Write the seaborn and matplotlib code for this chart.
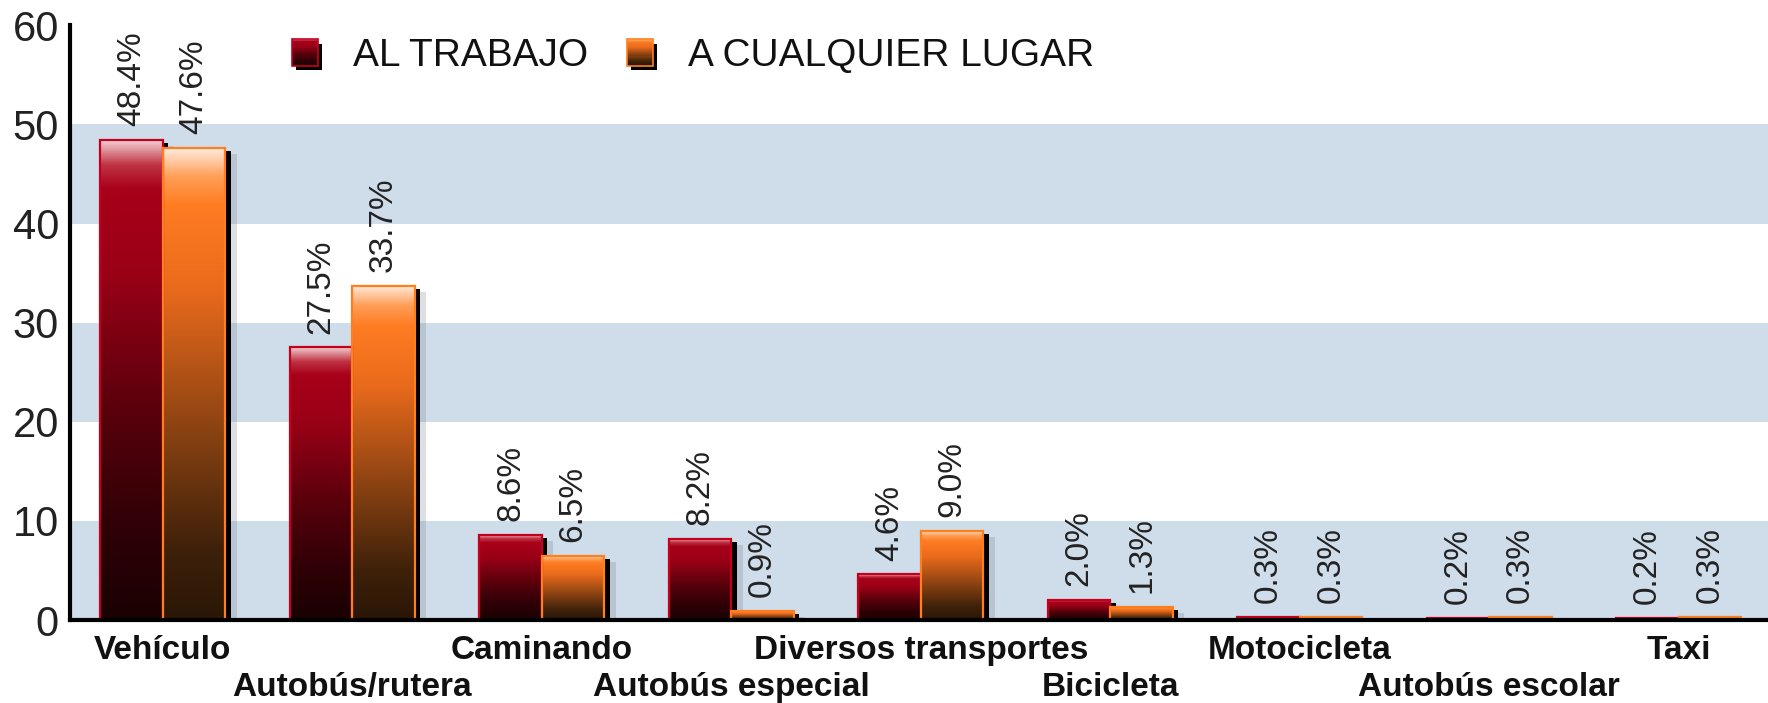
import numpy as np
import pandas as pd
import matplotlib
matplotlib.use('Agg')
import matplotlib.pyplot as plt
import seaborn as sns
from matplotlib.colors import LinearSegmentedColormap
from matplotlib.patches import Rectangle, Patch
from matplotlib.legend_handler import HandlerBase

# Data
categorias = ['Vehículo', 'Autobús/rutera', 'Caminando', 'Autobús especial',
              'Diversos transportes', 'Bicicleta', 'Motocicleta',
              'Autobús escolar', 'Taxi']
al_trabajo = [48.4, 27.5, 8.6, 8.2, 4.6, 2.0, 0.3, 0.2, 0.2]
cualquier_lugar = [47.6, 33.7, 6.5, 0.9, 9.0, 1.3, 0.3, 0.3, 0.3]
series = ['AL TRABAJO', 'A CUALQUIER LUGAR']
y_ticks = [0, 10, 20, 30, 40, 50, 60]

df = pd.DataFrame({
    'modo': categorias * 2,
    'serie': [series[0]] * len(categorias) + [series[1]] * len(categorias),
    'valor': al_trabajo + cualquier_lugar,
})

sns.set_style('white')
plt.rcParams['font.family'] = ['Liberation Sans', 'DejaVu Sans']

# gradients (top -> bottom) for the two series
cmap_rojo = LinearSegmentedColormap.from_list('rojo', [
    (0.0, '#f2ccd0'), (0.05, '#c03444'), (0.10, '#a8001a'),
    (0.28, '#990016'), (0.55, '#5c000c'), (0.80, '#300006'), (1.0, '#1a0202')])
cmap_naranja = LinearSegmentedColormap.from_list('naranja', [
    (0.0, '#ffeadb'), (0.06, '#ff9d55'), (0.12, '#ff7c22'),
    (0.30, '#e96a1c'), (0.60, '#8a4212'), (0.85, '#3f210a'), (1.0, '#2a1606')])
cmaps = [cmap_rojo, cmap_naranja]
bordes = ['#c4001f', '#ff7f1f']


class HandlerDegradado(HandlerBase):
    # legend square with the same vertical gradient as the bars
    def __init__(self, cmap, borde):
        super().__init__()
        self.cmap = cmap
        self.borde = borde

    def create_artists(self, legend, orig_handle, xdescent, ydescent,
                       width, height, fontsize, trans):
        n = 24
        arts = [Rectangle((-xdescent + 3, -ydescent - 3), width, height,
                          facecolor='black', lw=0, transform=trans)]
        for i in range(n):
            y0 = -ydescent + height * (1 - (i + 1) / n)
            arts.append(Rectangle((-xdescent, y0), width, height / n + 0.3,
                                  facecolor=self.cmap((i + 0.5) / n), lw=0,
                                  transform=trans))
        arts.append(Rectangle((-xdescent, -ydescent), width, height,
                              facecolor='none', edgecolor=self.borde, lw=1.2,
                              transform=trans))
        return arts


fig = plt.figure(figsize=(17.68, 7.03), dpi=100)
ax = fig.add_axes([0.0396, 0.118, 0.9604, 0.846])

# light blue bands
for lo in (0, 20, 40):
    ax.axhspan(lo, lo + 10, color='#cfdcea', lw=0, zorder=0)

sns.barplot(data=df, x='modo', y='valor', hue='serie',
            palette={series[0]: '#a5001b', series[1]: '#ff8226'},
            width=0.66, gap=0, saturation=1, legend=False, ax=ax)

grad = np.linspace(0, 1, 256).reshape(-1, 1)
for k, cont in enumerate(ax.containers):
    for bar in cont:
        x, w, h = bar.get_x(), bar.get_width(), bar.get_height()
        # drop shadow on the right side
        ax.add_patch(Rectangle((x + 0.06, 0), w, max(h - 0.6, 0),
                               color='#6a7080', alpha=0.22, lw=0, zorder=2))
        ax.add_patch(Rectangle((x + 0.027, 0), w, max(h - 0.3, 0),
                               color='black', lw=0, zorder=2.2))
        im = ax.imshow(grad, cmap=cmaps[k], extent=(x, x + w, 0, h),
                       origin='upper', aspect='auto', zorder=3)
        im.set_clip_path(bar)
        bar.set_facecolor('none')
        bar.set_edgecolor(bordes[k])
        bar.set_linewidth(1.6)
        bar.set_zorder(4)
    vals = al_trabajo if k == 0 else cualquier_lugar
    ax.bar_label(cont, labels=[f'{v:.1f}%' for v in vals], rotation=90,
                 padding=10, fontsize=24, color='#222222')

ax.set_xlim(-0.49, 8.47)
ax.set_ylim(0, 60)
ax.set_yticks(y_ticks)
ax.set_xlabel('')
ax.set_ylabel('')
ax.tick_params(axis='y', length=0, labelsize=30, pad=8, labelcolor='#222222')
ax.tick_params(axis='x', length=0, labelsize=24, pad=11, labelcolor='#111111')
for lab in ax.get_xticklabels():
    lab.set_fontweight('bold')
for i, lab in enumerate(ax.get_xticklabels()):
    if i % 2 == 1:
        lab.set_y(-0.062)

for s in ['top', 'right']:
    ax.spines[s].set_visible(False)
for s in ['left', 'bottom']:
    ax.spines[s].set_color('black')
    ax.spines[s].set_linewidth(3)
    ax.spines[s].set_zorder(5)

handles = [Patch(facecolor='#8c0013'), Patch(facecolor='#e2661c')]
fig.legend(handles, series, loc='center left', bbox_to_anchor=(0.165, 0.92),
           ncol=2, frameon=False, fontsize=28, handlelength=0.67,
           handleheight=0.67, handletextpad=0.9, columnspacing=1.0,
           borderpad=0, borderaxespad=0, labelcolor='#111111',
           handler_map={handles[0]: HandlerDegradado(cmap_rojo, bordes[0]),
                        handles[1]: HandlerDegradado(cmap_naranja, bordes[1])})

fig.savefig('out.png', dpi=100)
